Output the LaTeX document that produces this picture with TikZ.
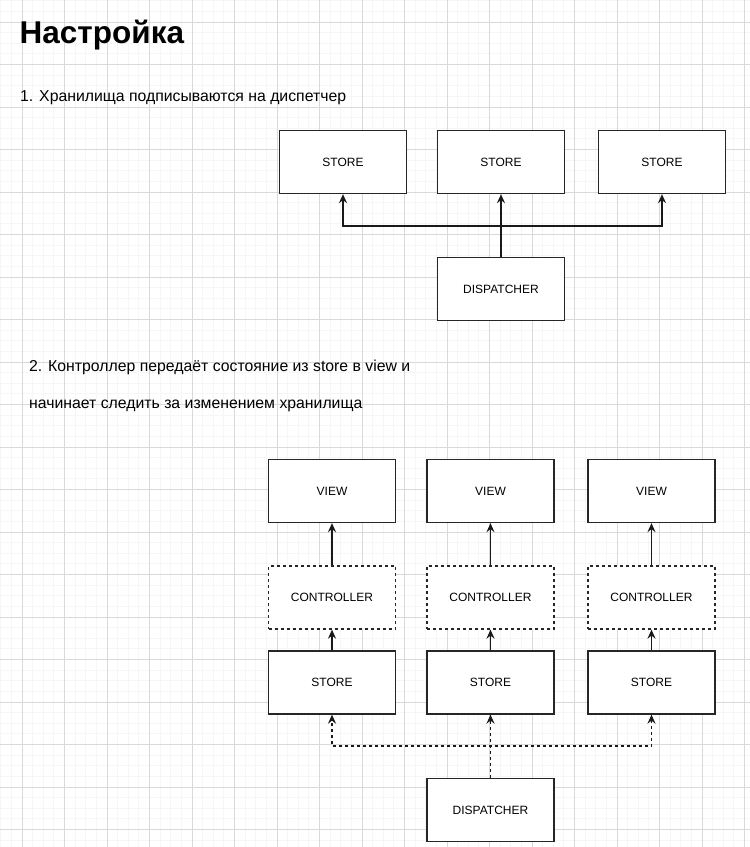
\documentclass[tikz,border=0pt]{standalone}
\usepackage{fontspec}
\setmainfont{Liberation Sans}
\usetikzlibrary{arrows.meta}
\begin{document}
\begin{tikzpicture}[x=1pt,y=-1pt,
  minorgrid/.style={draw=black!3.5, line width=1pt},
  majorgrid/.style={draw=black!15, line width=1pt},
  box/.style={draw=black!85, line width=1.3pt, fill=white, minimum width=127pt, minimum height=63pt, inner sep=0pt, font=\fontsize{12}{14}\selectfont, text=black},
  ctrl/.style={box, dash pattern=on 3pt off 3pt},
  conn/.style={draw=black!90, line width=1.3pt, -{Stealth[length=9pt,width=8pt,inset=3pt]}},
  dconn/.style={conn, dash pattern=on 3pt off 3pt},
  txt/.style={anchor=base west, inner sep=0pt, font=\fontsize{15.8}{19}\selectfont, text=black},
  ttl/.style={anchor=base west, inner sep=0pt, font=\fontsize{31.5}{36}\selectfont\bfseries, text=black}]
\useasboundingbox (0,0) rectangle (750,847);
\fill[white] (0,0) rectangle (750,847);
\foreach \i in {0,...,80} {
  \draw[minorgrid] (0.75+10.625*\i,0) -- (0.75+10.625*\i,847);
  \draw[minorgrid] (0,0.75+10.625*\i) -- (750,0.75+10.625*\i);
}
\foreach \i in {-1,...,19} {
  \draw[majorgrid] (22+42.5*\i,0) -- (22+42.5*\i,847);
  \draw[majorgrid] (0,22+42.5*\i) -- (750,22+42.5*\i);
}
\node[ttl] (title) at (19.5,43.5) {Настройка};
\node[txt] (t1) at (20,101.5) {1. Хранилища подписываются на диспетчер};
\node[txt] (t2) at (29,371.5) {2. Контроллер передаёт состояние из store в view и};
\node[txt] (t3) at (29,408.5) {начинает следить за изменением хранилища};

% section 1
\node[box] (s1) at (343,162) {STORE};
\node[box] (s2) at (501,162) {STORE};
\node[box] (s3) at (662,162) {STORE};
\node[box] (d1) at (501,289) {DISPATCHER};
\coordinate (b1) at (501,226);
\draw[conn] (d1.north) -- (b1) -| (s1.south);
\draw[conn] (d1.north) -- (s2.south);
\draw[conn] (d1.north) -- (b1) -| (s3.south);

% section 2
\foreach \n/\x in {1/332,2/490.5,3/651.5} {
  \node[box] (v\n) at (\x,491) {VIEW};
  \node[ctrl] (c\n) at (\x,597.5) {CONTROLLER};
  \node[box] (st\n) at (\x,682.5) {STORE};
  \draw[conn] (c\n.north) -- (v\n.south);
  \draw[conn] (st\n.north) -- (c\n.south);
}
\node[box] (d2) at (490.5,810) {DISPATCHER};
\coordinate (b2) at (490.5,746);
\draw[dconn] (d2.north) -- (b2) -| (st1.south);
\draw[dconn] (d2.north) -- (st2.south);
\draw[dconn] (d2.north) -- (b2) -| (st3.south);
\end{tikzpicture}
\end{document}
